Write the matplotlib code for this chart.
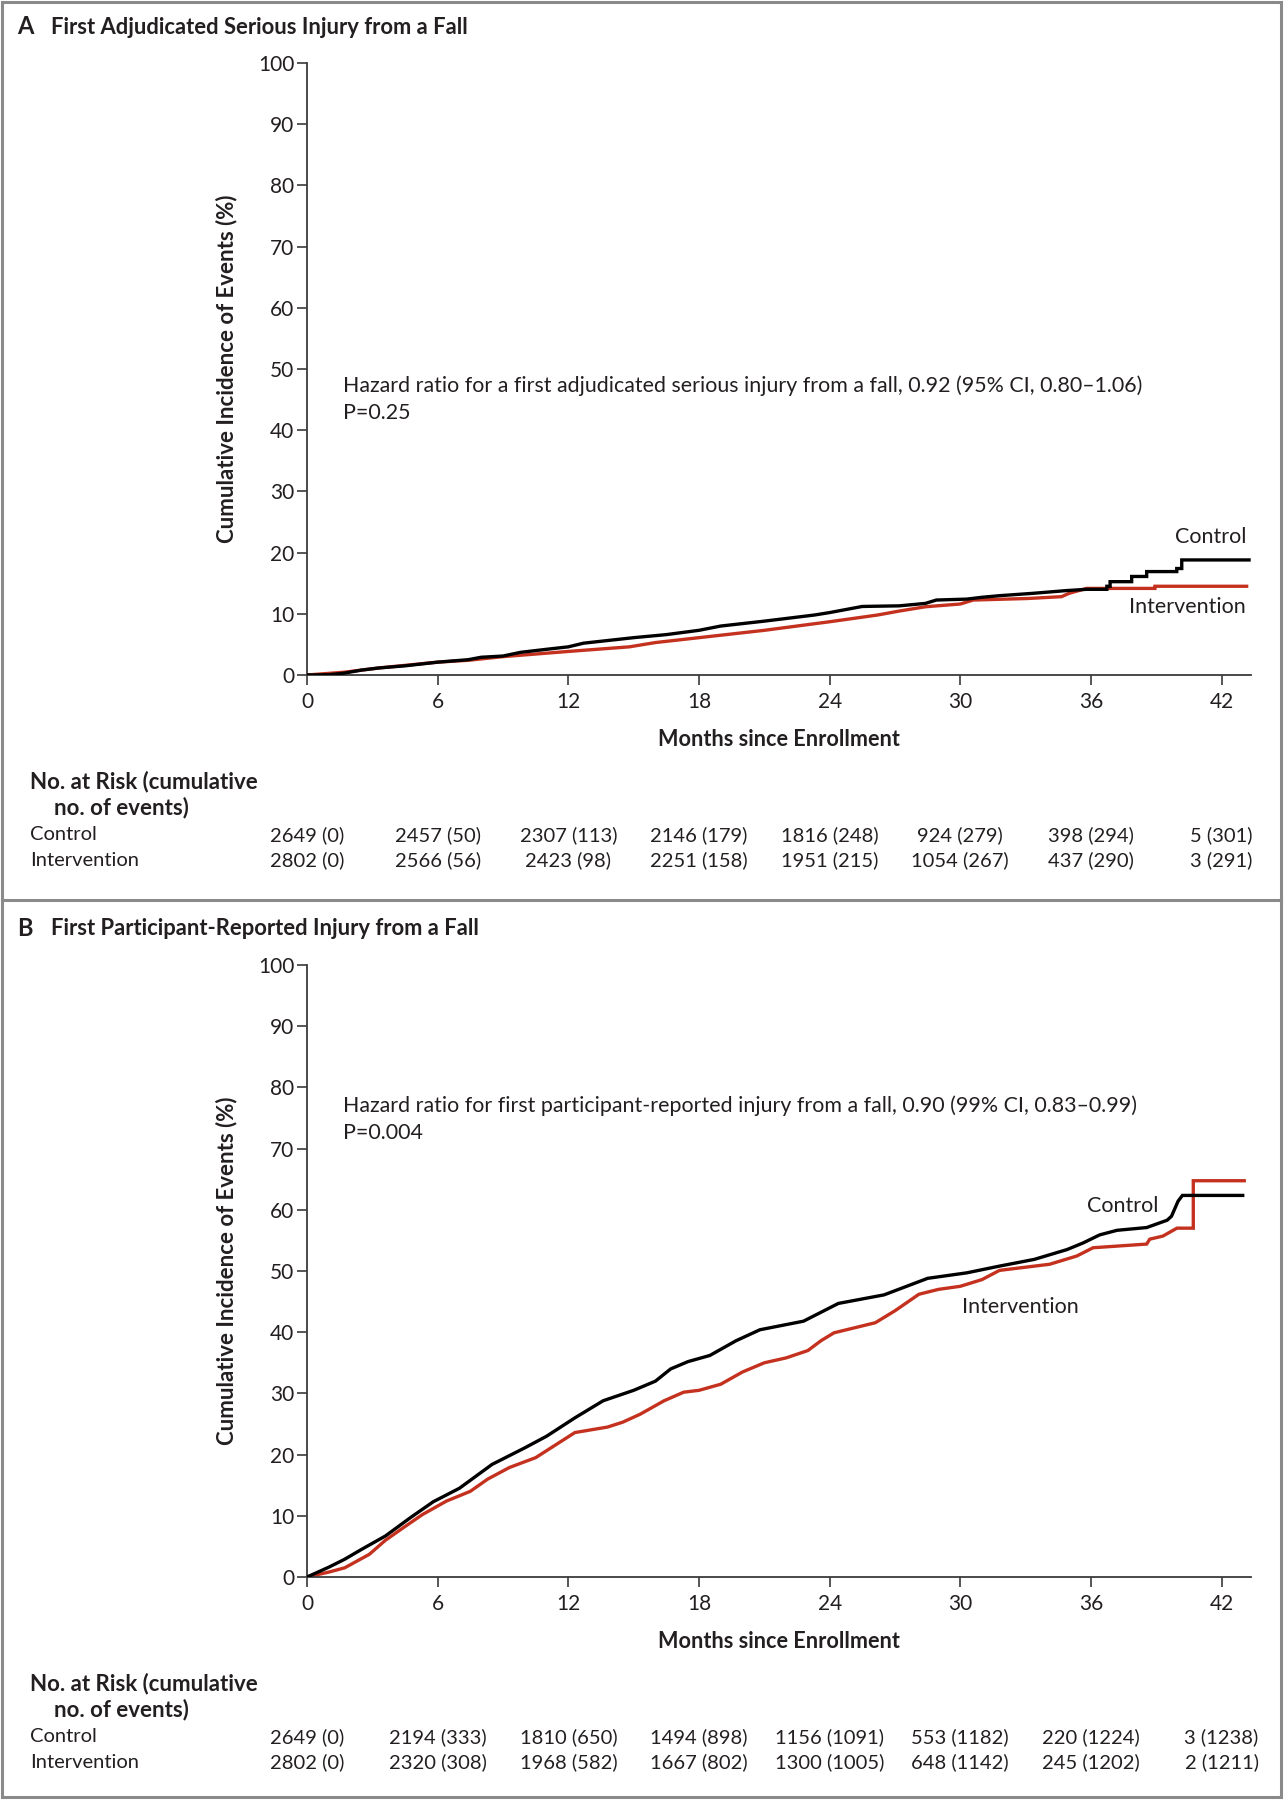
"""Two-panel cumulative incidence chart (falls trial), redrawn with matplotlib."""

import matplotlib
matplotlib.use('Agg')
import matplotlib.pyplot as plt
from matplotlib.lines import Line2D
from matplotlib.patches import Rectangle

plt.rcParams['font.family'] = ['Lato', 'DejaVu Sans']

# ---- data ----
months_ticks = [0, 6, 12, 18, 24, 30, 36, 42]
pct_ticks = [0, 10, 20, 30, 40, 50, 60, 70, 80, 90, 100]

# Panel A: first adjudicated serious injury
ctrl_a_months = [0, 1.0, 1.7, 2.5, 3.3, 4.5, 6.0, 7.4, 8.0, 9.0, 9.8, 11.0, 12.0, 12.7,
                 15.0, 16.5, 18.0, 19.0, 21.0, 23.3, 24.0, 25.5, 27.2, 28.4, 28.9, 30.3,
                 31.0, 31.8, 33.35, 34.9, 35.8, 36.73, 36.73, 36.88, 36.88, 37.87, 37.87,
                 38.56, 38.56, 39.94, 39.94, 40.17, 40.17, 43.26]
ctrl_a_pct = [0, 0.05, 0.3, 0.8, 1.15, 1.5, 2.1, 2.5, 2.9, 3.1, 3.7, 4.2, 4.6, 5.2,
              6.1, 6.6, 7.3, 8.0, 8.8, 9.8, 10.2, 11.2, 11.3, 11.7, 12.25, 12.4,
              12.7, 12.96, 13.35, 13.8, 14.0, 14.0, 14.5, 14.5, 15.25, 15.25, 16.1,
              16.1, 16.9, 16.9, 17.4, 17.4, 18.8, 18.8]
int_a_months = [0, 1.7, 3.3, 6.0, 7.4, 9.0, 12.0, 14.8, 16.0, 18.0, 21.0, 24.0, 26.2,
                27.2, 28.4, 30.0, 30.6, 31.6, 33.1, 34.65, 35.0, 35.65, 35.8, 38.94,
                38.94, 43.15]
int_a_pct = [0, 0.45, 1.15, 2.1, 2.4, 3.0, 3.85, 4.6, 5.3, 6.1, 7.3, 8.7, 9.8,
             10.45, 11.15, 11.6, 12.25, 12.35, 12.5, 12.8, 13.35, 14.0, 14.15, 14.15,
             14.5, 14.5]

# Panel B: first participant-reported injury
ctrl_b_months = [0, 1.0, 1.73, 2.5, 3.6, 4.75, 5.8, 7.0, 8.5, 10.0, 11.0, 12.3, 13.6,
                 15.0, 16.0, 16.7, 17.5, 18.5, 19.7, 20.8, 22.8, 24.4, 26.5, 28.5, 30.3,
                 31.8, 33.4, 34.9, 35.65, 36.4, 37.2, 38.56, 39.5, 39.7, 40.0, 40.2, 42.97]
ctrl_b_pct = [0, 1.6, 2.9, 4.5, 6.7, 9.7, 12.3, 14.5, 18.4, 21.1, 23.0, 26.0, 28.8,
              30.5, 32.0, 34.0, 35.2, 36.2, 38.6, 40.4, 41.8, 44.7, 46.1, 48.8, 49.7,
              50.8, 51.9, 53.5, 54.6, 55.9, 56.65, 57.1, 58.3, 58.95, 61.4, 62.35, 62.35]
int_b_months = [0, 1.0, 1.73, 2.86, 3.6, 4.4, 5.3, 6.4, 7.5, 8.3, 9.3, 10.5, 12.3, 13.8,
                14.5, 15.3, 16.4, 17.3, 18.0, 19.0, 20.0, 21.0, 22.0, 23.0, 23.6, 24.2,
                26.1, 27.0, 28.1, 29.0, 30.0, 31.0, 31.8, 34.1, 35.35, 36.1, 38.56, 38.7,
                39.3, 39.95, 40.7, 40.7, 43.04]
int_b_pct = [0, 0.8, 1.5, 3.7, 6.0, 8.0, 10.2, 12.4, 14.0, 16.0, 17.9, 19.5, 23.6, 24.5,
             25.3, 26.6, 28.8, 30.2, 30.5, 31.5, 33.5, 35.0, 35.8, 37.0, 38.6, 39.9,
             41.55, 43.5, 46.2, 47.0, 47.5, 48.6, 50.1, 51.1, 52.45, 53.8, 54.4, 55.2,
             55.7, 57.0, 57.0, 64.75, 64.75]

# numbers at risk (cumulative no. of events)
risk_ctrl_a = ['2649 (0)', '2457 (50)', '2307 (113)', '2146 (179)', '1816 (248)',
               '924 (279)', '398 (294)', '5 (301)']
risk_int_a = ['2802 (0)', '2566 (56)', '2423 (98)', '2251 (158)', '1951 (215)',
              '1054 (267)', '437 (290)', '3 (291)']
risk_ctrl_b = ['2649 (0)', '2194 (333)', '1810 (650)', '1494 (898)', '1156 (1091)',
               '553 (1182)', '220 (1224)', '3 (1238)']
risk_int_b = ['2802 (0)', '2320 (308)', '1968 (582)', '1667 (802)', '1300 (1005)',
              '648 (1142)', '245 (1202)', '2 (1211)']

# ---- styling ----
W, H = 1286, 1800
TXT = '#231f20'
RED = '#c4321f'
AX = '#3a3a3a'

fig = plt.figure(figsize=(W / 100, H / 100), dpi=100)


def fx(px):
    return px / W


def fy(py):
    return 1 - py / H


def panel(off, letter, title, c_m, c_p, i_m, i_p, hr_line, p_line, hr_y,
          ctrl_lab, int_lab, risk_c, risk_i):
    ax = fig.add_axes([fx(307), fy(675 + off), fx(1251) - fx(307),
                       fy(63 + off) - fy(675 + off)])
    ax.plot(c_m, c_p, color='black', lw=2.4, solid_joinstyle='miter', zorder=3)
    ax.plot(i_m, i_p, color=RED, lw=2.4, solid_joinstyle='miter', zorder=2)
    ax.set_xlim(0, 43.35)
    ax.set_ylim(0, 100)
    ax.set_xticks(months_ticks)
    ax.set_yticks(pct_ticks)
    for s in ['top', 'right']:
        ax.spines[s].set_visible(False)
    for s in ['left', 'bottom']:
        ax.spines[s].set_color(AX)
        ax.spines[s].set_linewidth(1.3)
    ax.tick_params(direction='out', length=7, width=1.2, color=AX,
                   labelsize=15, labelcolor=TXT)
    ax.tick_params(axis='x', pad=5)
    ax.tick_params(axis='y', pad=2)
    ax.patch.set_alpha(0)

    ax.text(1.66, hr_y, hr_line, fontsize=15.4, color=TXT, va='center')
    ax.text(1.66, hr_y - 4.4, p_line, fontsize=15.4, color=TXT, va='center')
    ax.text(*ctrl_lab[:2], 'Control', fontsize=15.5, color=TXT, va='center', ha=ctrl_lab[2])
    ax.text(*int_lab[:2], 'Intervention', fontsize=15.5, color=TXT, va='center', ha=int_lab[2])

    # titles and axis labels
    fig.text(fx(17), fy(27 + off), letter, fontsize=17, fontweight='bold', color=TXT, va='center')
    fig.text(fx(51), fy(27 + off), title, fontsize=15.8, fontweight='bold', color=TXT, va='center')
    fig.text(fx(779), fy(740 + off), 'Months since Enrollment', fontsize=15.6,
             fontweight='bold', color=TXT, ha='center', va='center')
    fig.text(fx(227), fy(369 + off), 'Cumulative Incidence of Events (%)', fontsize=16,
             fontweight='bold', color=TXT, ha='center', va='center', rotation=90)

    # risk table
    fig.text(fx(30), fy(782 + off), 'No. at Risk (cumulative', fontsize=16,
             fontweight='bold', color=TXT, va='center')
    fig.text(fx(54), fy(808 + off), 'no. of events)', fontsize=16,
             fontweight='bold', color=TXT, va='center')
    fig.text(fx(30), fy(835 + off), 'Control', fontsize=14.5, color=TXT, va='center')
    fig.text(fx(30), fy(860 + off), 'Intervention', fontsize=14.5, color=TXT, va='center')
    for m, c, i in zip(months_ticks, risk_c, risk_i):
        xf = fig.transFigure.inverted().transform(ax.transData.transform((m, 0)))[0]
        fig.text(xf, fy(835 + off), c, fontsize=14.5, color=TXT, ha='center', va='center')
        fig.text(xf, fy(860 + off), i, fontsize=14.5, color=TXT, ha='center', va='center')
    return ax


panel(0, 'A', 'First Adjudicated Serious Injury from a Fall',
      ctrl_a_months, ctrl_a_pct, int_a_months, int_a_pct,
      'Hazard ratio for a first adjudicated serious injury from a fall, 0.92 (95% CI, 0.80\u20131.06)',
      'P=0.25', 47.2,
      (43.15, 22.5, 'right'), (43.12, 11.1, 'right'),
      risk_ctrl_a, risk_int_a)

panel(902, 'B', 'First Participant-Reported Injury from a Fall',
      ctrl_b_months, ctrl_b_pct, int_b_months, int_b_pct,
      'Hazard ratio for first participant-reported injury from a fall, 0.90 (99% CI, 0.83\u20130.99)',
      'P=0.004', 77.0,
      (37.46, 60.6, 'center'), (30.08, 44.1, 'left'),
      risk_ctrl_b, risk_int_b)

# outer frame and separator
fig.add_artist(Rectangle((fx(2), fy(1797)), fx(1281) - fx(2), fy(2) - fy(1797),
                         transform=fig.transFigure, fill=False, edgecolor='#8a8a8a', lw=2.2))
fig.add_artist(Line2D([fx(2), fx(1281)], [fy(900), fy(900)], transform=fig.transFigure,
                      color='#8a8a8a', lw=2.2))

fig.savefig('out.png', dpi=100, facecolor='white')
